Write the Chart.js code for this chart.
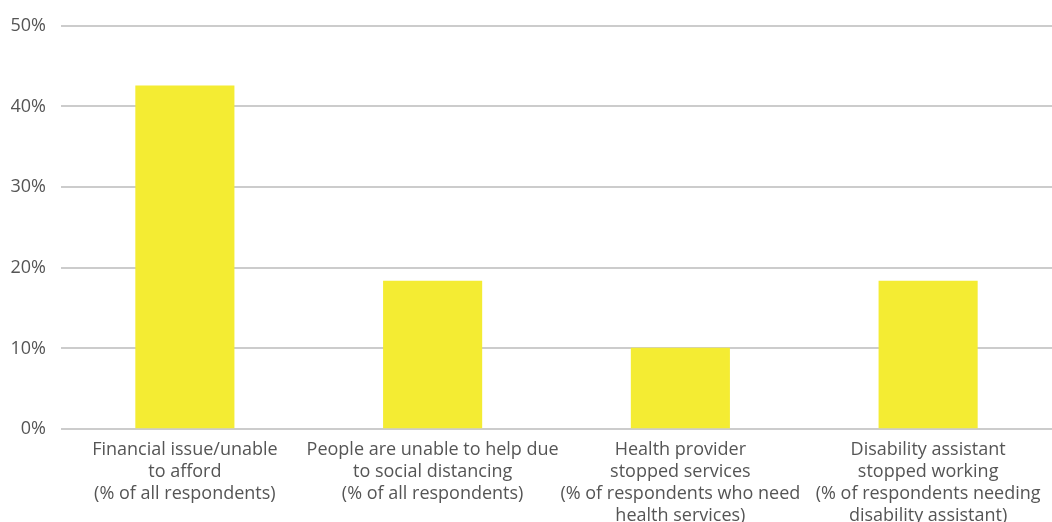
<!DOCTYPE html>
<html>
<head>
<meta charset="utf-8">
<script src="https://cdn.jsdelivr.net/npm/chart.js@4"></script>
<style>
    html, body { margin: 0; padding: 0; background: #fff; overflow: hidden; }
    #wrap { position: relative; width: 1052px; height: 529px; }
</style>
</head>
<body>
<div id="wrap"><canvas id="bar-chart"></canvas></div>
<script>
// chart data
const categories = [
    ['Financial issue/unable', 'to afford', '(% of all respondents)'],
    ['People are unable to help due', 'to social distancing', '(% of all respondents)'],
    ['Health provider', 'stopped services', '(% of respondents who need', 'health services)'],
    ['Disability assistant', 'stopped working', '(% of respondents needing', 'disability assistant)']
];
const shares = [42.6, 18.4, 10.1, 18.4];
const yTicks = [0, 10, 20, 30, 40, 50];

document.addEventListener('DOMContentLoaded', function() {
    const ctx = document.getElementById('bar-chart').getContext('2d');
    new Chart(ctx, {
        type: 'bar',
        data: {
            labels: categories,
            datasets: [{
                data: shares,
                backgroundColor: '#f4ec33',
                barPercentage: 0.4,
                categoryPercentage: 1
            }]
        },
        options: {
            responsive: true,
            maintainAspectRatio: false,
            animation: false,
            layout: { padding: { top: 21, left: 11, right: 0, bottom: 0 } },
            plugins: {
                legend: { display: false },
                tooltip: { enabled: false }
            },
            scales: {
                x: {
                    grid: { display: false },
                    border: { display: false },
                    ticks: {
                        color: '#555',
                        maxRotation: 0,
                        autoSkip: false,
                        padding: 2,
                        font: { family: 'Open Sans', size: 18, lineHeight: 1.22 }
                    }
                },
                y: {
                    min: 0,
                    max: 50,
                    afterBuildTicks: function(axis) {
                        axis.ticks = yTicks.map(v => ({ value: v }));
                    },
                    afterFit: function(axis) {
                        axis.width = 50;  // keeps the gridlines starting at x=61
                    },
                    grid: { color: '#cccccc', lineWidth: 2, drawTicks: false },
                    border: { display: false },
                    ticks: {
                        color: '#555',
                        padding: 15,
                        font: { family: 'Open Sans', size: 18 },
                        callback: function(value) { return value + '%'; }
                    }
                }
            }
        }
    });
});
</script>
</body>
</html>
